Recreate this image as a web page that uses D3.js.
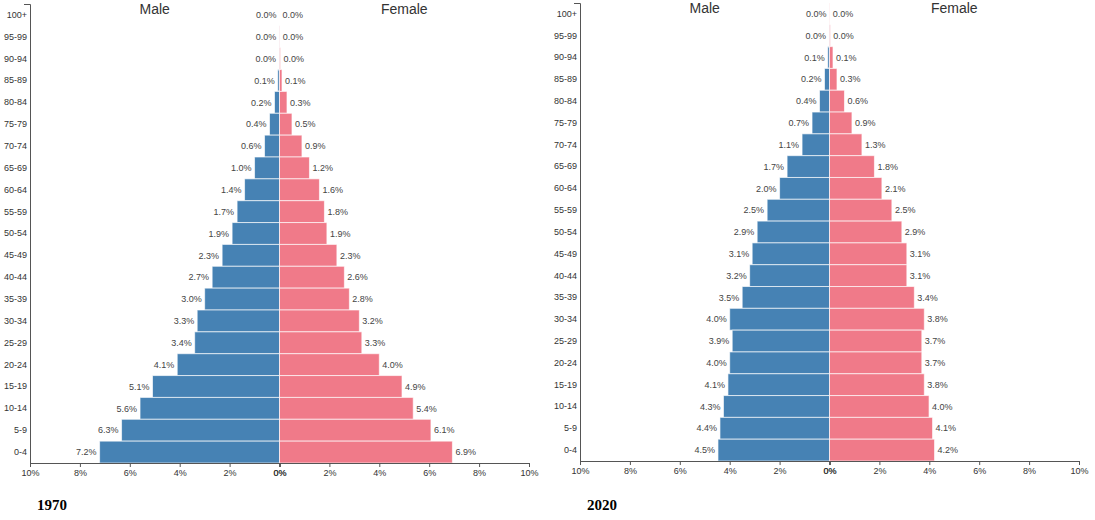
<!DOCTYPE html>
<html>
<head>
<meta charset="utf-8">
<script src="https://cdn.jsdelivr.net/npm/d3@7"></script>
<style>
  html, body { margin: 0; padding: 0; background: #fff; }
  svg { display: block; }
  .axis text { font-family: "Liberation Sans", Arial, sans-serif; font-size: 9px; fill: #333; }
  .axis path, .axis line { stroke: #555; }
  .val { font-family: "Liberation Sans", Arial, sans-serif; font-size: 9px; fill: #444; }
  .ttl { font-family: "Liberation Sans", Arial, sans-serif; font-size: 14px; fill: #333; }
  .year { font-family: "Liberation Serif", "Times New Roman", serif; font-size: 15px; font-weight: bold; fill: #000; }
</style>
</head>
<body>
<svg id="chart" width="1095" height="520"></svg>
<script>
const ageGroups = ["100+","95-99","90-94","85-89","80-84","75-79","70-74","65-69","60-64","55-59","50-54","45-49","40-44","35-39","30-34","25-29","20-24","15-19","10-14","5-9","0-4"];
const xTicks = [0, 2, 4, 6, 8, 10];

const male1970   = [0.00,0.01,0.02,0.07,0.2,0.4,0.6,1.0,1.4,1.7,1.9,2.3,2.7,3.0,3.3,3.4,4.1,5.09,5.59,6.33,7.21];
const female1970 = [0.00,0.01,0.04,0.1,0.3,0.5,0.9,1.2,1.6,1.8,1.9,2.3,2.6,2.8,3.2,3.3,4.0,4.91,5.36,6.07,6.93];
const male2020   = [0.00,0.02,0.07,0.2,0.4,0.7,1.1,1.7,2.0,2.5,2.9,3.1,3.2,3.5,4.0,3.9,4.0,4.07,4.25,4.39,4.47];
const female2020 = [0.01,0.03,0.14,0.3,0.6,0.9,1.3,1.8,2.1,2.5,2.9,3.1,3.1,3.4,3.8,3.7,3.7,3.8,3.99,4.13,4.21];

const maleColor = "#4682b4";
const femaleColor = "#f07a89";

const svg = d3.select("#chart");

function pyramid(cfg) {
  const { xL, xR, top, bottom, male, female, year } = cfg;
  const center = (xL + xR) / 2;
  const g = svg.append("g");

  const y = d3.scaleBand().domain(ageGroups).range([top, bottom]).padding(0);
  const xm = d3.scaleLinear().domain([0, 10]).range([center, xL]);
  const xf = d3.scaleLinear().domain([0, 10]).range([center, xR]);

  // bars
  g.selectAll(".m").data(male).join("rect")
    .attr("x", d => xm(d)).attr("y", (d, i) => y(ageGroups[i]))
    .attr("width", d => xm(0) - xm(d)).attr("height", y.bandwidth())
    .attr("fill", maleColor).attr("stroke", "rgba(255,255,255,0.65)").attr("stroke-width", 1);
  g.selectAll(".f").data(female).join("rect")
    .attr("x", xf(0)).attr("y", (d, i) => y(ageGroups[i]))
    .attr("width", d => xf(d) - xf(0)).attr("height", y.bandwidth())
    .attr("fill", femaleColor).attr("stroke", "rgba(255,255,255,0.65)").attr("stroke-width", 1);

  // value labels
  g.selectAll(".mv").data(male).join("text").attr("class", "val")
    .attr("x", d => xm(d) - 3).attr("y", (d, i) => y(ageGroups[i]) + y.bandwidth() / 2)
    .attr("dy", "0.35em").attr("text-anchor", "end").text(d => d.toFixed(1) + "%");
  g.selectAll(".fv").data(female).join("text").attr("class", "val")
    .attr("x", d => xf(d) + 3).attr("y", (d, i) => y(ageGroups[i]) + y.bandwidth() / 2)
    .attr("dy", "0.35em").attr("text-anchor", "start").text(d => d.toFixed(1) + "%");

  // axes
  const ya = g.append("g").attr("class", "axis").attr("transform", `translate(${xL},0)`)
    .call(d3.axisLeft(y).tickSizeInner(0).tickSizeOuter(6).tickPadding(3));
  ya.select(".domain").attr("d", `M-6,${top + 0.5}H0.5V${bottom}`);

  g.append("g").attr("class", "axis").attr("transform", `translate(0,${bottom})`)
    .call(d3.axisBottom(xm).tickValues(xTicks).tickSize(4).tickFormat(d => d + "%"));
  g.append("g").attr("class", "axis").attr("transform", `translate(0,${bottom})`)
    .call(d3.axisBottom(xf).tickValues(xTicks).tickSize(4).tickFormat(d => d + "%"));

  // titles
  g.append("text").attr("class", "ttl").attr("text-anchor", "middle")
    .attr("x", (xm(0) + xm(10)) / 2).attr("y", top + 10).text("Male");
  g.append("text").attr("class", "ttl").attr("text-anchor", "middle")
    .attr("x", (xf(0) + xf(10)) / 2).attr("y", top + 10).text("Female");

  g.append("text").attr("class", "year").attr("x", xL + 7).attr("y", 510).text(year);
}

pyramid({ xL: 30, xR: 529, top: 4, bottom: 463, male: male1970, female: female1970, year: "1970" });
pyramid({ xL: 580, xR: 1079, top: 3, bottom: 461, male: male2020, female: female2020, year: "2020" });
</script>
</body>
</html>
